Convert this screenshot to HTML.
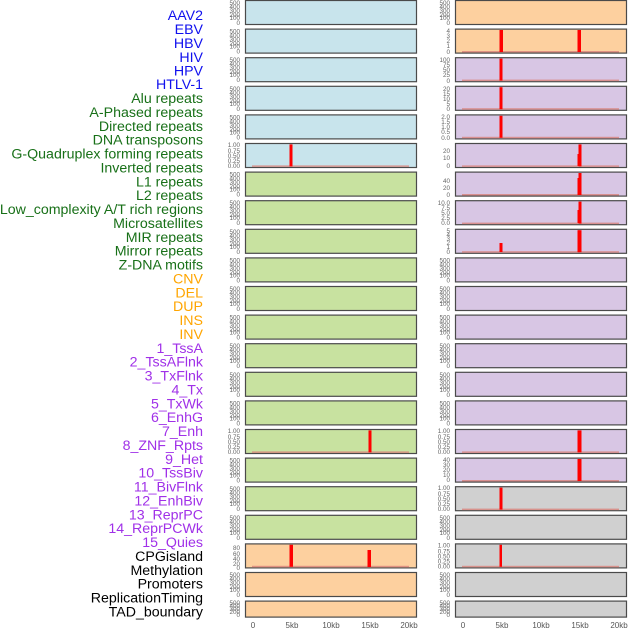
<!DOCTYPE html>
<html><head><meta charset="utf-8"><style>
body{margin:0;background:#fff}
svg{display:block}
.l{font-family:"Liberation Sans",sans-serif;font-size:14.2px;text-anchor:end}
.t{font-family:"Liberation Sans",sans-serif;font-size:6.3px;fill:#666;text-anchor:end}
.x{font-family:"Liberation Sans",sans-serif;font-size:8px;fill:#555;text-anchor:middle}
.p{stroke:#4a4a4a;stroke-width:1.2}
.b{fill:#c8e4ec}.o{fill:#fdd09f}.g{fill:#c8e2a0}.u{fill:#d8c6e4}.y{fill:#d0d0d0}
.r{fill:#ff0000}
.bl{fill:#d9827a;opacity:.8}
</style></head><body>
<svg width="630" height="630" xmlns="http://www.w3.org/2000/svg">
<g class="l">
<text x="203" y="20" fill="#1010ee">AAV2</text>
<text x="203" y="34" fill="#1010ee">EBV</text>
<text x="203" y="48" fill="#1010ee">HBV</text>
<text x="203" y="62" fill="#1010ee">HIV</text>
<text x="203" y="75.5" fill="#1010ee">HPV</text>
<text x="203" y="89" fill="#1010ee">HTLV-1</text>
<text x="203" y="103" fill="#187018">Alu repeats</text>
<text x="203" y="117" fill="#187018">A-Phased repeats</text>
<text x="203" y="131" fill="#187018">Directed repeats</text>
<text x="203" y="144.5" fill="#187018">DNA transposons</text>
<text x="203" y="158.5" fill="#187018">G-Quadruplex forming repeats</text>
<text x="203" y="172.5" fill="#187018">Inverted repeats</text>
<text x="203" y="186.5" fill="#187018">L1 repeats</text>
<text x="203" y="200" fill="#187018">L2 repeats</text>
<text x="203" y="214" fill="#187018">Low_complexity A/T rich regions</text>
<text x="203" y="228" fill="#187018">Microsatellites</text>
<text x="203" y="242" fill="#187018">MIR repeats</text>
<text x="203" y="255.5" fill="#187018">Mirror repeats</text>
<text x="203" y="269.5" fill="#187018">Z-DNA motifs</text>
<text x="203" y="283.5" fill="#ffa500">CNV</text>
<text x="203" y="297.5" fill="#ffa500">DEL</text>
<text x="203" y="311" fill="#ffa500">DUP</text>
<text x="203" y="325" fill="#ffa500">INS</text>
<text x="203" y="339" fill="#ffa500">INV</text>
<text x="203" y="353" fill="#a030e8">1_TssA</text>
<text x="203" y="366.5" fill="#a030e8">2_TssAFlnk</text>
<text x="203" y="380.5" fill="#a030e8">3_TxFlnk</text>
<text x="203" y="394.5" fill="#a030e8">4_Tx</text>
<text x="203" y="408.5" fill="#a030e8">5_TxWk</text>
<text x="203" y="422" fill="#a030e8">6_EnhG</text>
<text x="203" y="436" fill="#a030e8">7_Enh</text>
<text x="203" y="450" fill="#a030e8">8_ZNF_Rpts</text>
<text x="203" y="464" fill="#a030e8">9_Het</text>
<text x="203" y="477.5" fill="#a030e8">10_TssBiv</text>
<text x="203" y="491.5" fill="#a030e8">11_BivFlnk</text>
<text x="203" y="505.5" fill="#a030e8">12_EnhBiv</text>
<text x="203" y="519.5" fill="#a030e8">13_ReprPC</text>
<text x="203" y="533" fill="#a030e8">14_ReprPCWk</text>
<text x="203" y="547" fill="#a030e8">15_Quies</text>
<text x="203" y="561" fill="#000">CPGisland</text>
<text x="203" y="575" fill="#000">Methylation</text>
<text x="203" y="588.5" fill="#000">Promoters</text>
<text x="203" y="602.5" fill="#000">ReplicationTiming</text>
<text x="203" y="616.5" fill="#000">TAD_boundary</text>
</g>

<g class="p">
<rect class="b" x="245.5" y="0.5" width="171" height="24"/><rect class="o" x="455.5" y="0.5" width="171" height="24"/>
<rect class="b" x="245.5" y="29.1" width="171" height="24"/><rect class="o" x="455.5" y="29.1" width="171" height="24"/>
<rect class="b" x="245.5" y="57.7" width="171" height="24"/><rect class="u" x="455.5" y="57.7" width="171" height="24"/>
<rect class="b" x="245.5" y="86.3" width="171" height="24"/><rect class="u" x="455.5" y="86.3" width="171" height="24"/>
<rect class="b" x="245.5" y="114.9" width="171" height="24"/><rect class="u" x="455.5" y="114.9" width="171" height="24"/>
<rect class="b" x="245.5" y="143.5" width="171" height="24"/><rect class="u" x="455.5" y="143.5" width="171" height="24"/>
<rect class="g" x="245.5" y="172.1" width="171" height="24"/><rect class="u" x="455.5" y="172.1" width="171" height="24"/>
<rect class="g" x="245.5" y="200.7" width="171" height="24"/><rect class="u" x="455.5" y="200.7" width="171" height="24"/>
<rect class="g" x="245.5" y="229.3" width="171" height="24"/><rect class="u" x="455.5" y="229.3" width="171" height="24"/>
<rect class="g" x="245.5" y="257.9" width="171" height="24"/><rect class="u" x="455.5" y="257.9" width="171" height="24"/>
<rect class="g" x="245.5" y="286.5" width="171" height="24"/><rect class="u" x="455.5" y="286.5" width="171" height="24"/>
<rect class="g" x="245.5" y="315.1" width="171" height="24"/><rect class="u" x="455.5" y="315.1" width="171" height="24"/>
<rect class="g" x="245.5" y="343.7" width="171" height="24"/><rect class="u" x="455.5" y="343.7" width="171" height="24"/>
<rect class="g" x="245.5" y="372.3" width="171" height="24"/><rect class="u" x="455.5" y="372.3" width="171" height="24"/>
<rect class="g" x="245.5" y="400.9" width="171" height="24"/><rect class="u" x="455.5" y="400.9" width="171" height="24"/>
<rect class="g" x="245.5" y="429.5" width="171" height="24"/><rect class="u" x="455.5" y="429.5" width="171" height="24"/>
<rect class="g" x="245.5" y="458.1" width="171" height="24"/><rect class="u" x="455.5" y="458.1" width="171" height="24"/>
<rect class="g" x="245.5" y="486.7" width="171" height="24"/><rect class="y" x="455.5" y="486.7" width="171" height="24"/>
<rect class="g" x="245.5" y="515.3" width="171" height="24"/><rect class="y" x="455.5" y="515.3" width="171" height="24"/>
<rect class="o" x="245.5" y="543.9" width="171" height="24"/><rect class="y" x="455.5" y="543.9" width="171" height="24"/>
<rect class="o" x="245.5" y="572.5" width="171" height="24"/><rect class="y" x="455.5" y="572.5" width="171" height="24"/>
<rect class="o" x="245.5" y="601.1" width="171" height="16"/><rect class="y" x="455.5" y="601.1" width="171" height="16"/>
</g>

<g>
<rect class="bl" x="462" y="51" width="157" height="1.5"/><rect class="r" x="499.5" y="30" width="3.5" height="22"/><rect class="r" x="577.5" y="30" width="3.5" height="22"/>
<rect class="bl" x="462" y="79.6" width="157" height="1.5"/><rect class="r" x="499.5" y="58.6" width="3" height="22"/>
<rect class="bl" x="462" y="108.2" width="157" height="1.5"/><rect class="r" x="499.5" y="87.2" width="3" height="22"/>
<rect class="bl" x="462" y="136.8" width="157" height="1.5"/><rect class="r" x="499.5" y="115.8" width="3" height="22"/>
<rect class="bl" x="252" y="165.4" width="157" height="1.5"/><rect class="r" x="289.5" y="144.4" width="3" height="22"/>
<rect class="bl" x="462" y="165.4" width="157" height="1.5"/><rect class="r" x="578.5" y="144.4" width="3" height="22"/><rect class="r" x="577.5" y="154" width="2" height="12"/>
<rect class="bl" x="462" y="194" width="157" height="1.5"/><rect class="r" x="578.5" y="173" width="3" height="22"/><rect class="r" x="577.5" y="178" width="2" height="17"/>
<rect class="bl" x="462" y="222.6" width="157" height="1.5"/><rect class="r" x="578.5" y="201.6" width="3" height="22"/><rect class="r" x="577.5" y="210" width="2" height="13"/>
<rect class="bl" x="462" y="251.2" width="157" height="1.5"/><rect class="r" x="578.5" y="230.2" width="3" height="22"/><rect class="r" x="577.5" y="230.2" width="2" height="22"/><rect class="r" x="499.5" y="243" width="3" height="9"/>
<rect class="bl" x="252" y="451.4" width="157" height="1.5"/><rect class="r" x="368.5" y="430.4" width="3" height="22"/>
<rect class="bl" x="462" y="451.4" width="157" height="1.5"/><rect class="r" x="577.5" y="430.4" width="4" height="22"/>
<rect class="bl" x="462" y="480" width="157" height="1.5"/><rect class="r" x="577.5" y="459" width="4" height="22"/>
<rect class="bl" x="462" y="508.6" width="157" height="1.5"/><rect class="r" x="499.5" y="487.6" width="3" height="22"/>
<rect class="bl" x="252" y="565.8" width="157" height="1.5"/><rect class="r" x="289.5" y="544.8" width="3.5" height="22"/><rect class="r" x="367.5" y="550" width="3.5" height="17"/>
<rect class="bl" x="462" y="565.8" width="157" height="1.5"/><rect class="r" x="499.5" y="544.8" width="2.5" height="22"/>
</g>

<g class="t">
<g id="s0"><text x="240" y="5">500</text><text x="240" y="9">400</text><text x="240" y="13">300</text><text x="240" y="17">200</text><text x="240" y="20">100</text><text x="240" y="25">0</text></g>
<use href="#s0" y="28.6"/><use href="#s0" y="57.2"/><use href="#s0" y="85.8"/><use href="#s0" y="114.4"/>
<use href="#s0" y="171.6"/><use href="#s0" y="200.2"/><use href="#s0" y="228.8"/><use href="#s0" y="257.4"/><use href="#s0" y="286"/><use href="#s0" y="314.6"/><use href="#s0" y="343.2"/><use href="#s0" y="371.8"/><use href="#s0" y="400.4"/>
<use href="#s0" y="457.6"/><use href="#s0" y="486.2"/><use href="#s0" y="514.8"/><use href="#s0" y="572"/>
<use href="#s0" x="210"/><use href="#s0" x="210" y="257.4"/><use href="#s0" x="210" y="286"/><use href="#s0" x="210" y="314.6"/><use href="#s0" x="210" y="343.2"/><use href="#s0" x="210" y="371.8"/><use href="#s0" x="210" y="400.4"/><use href="#s0" x="210" y="514.8"/><use href="#s0" x="210" y="572"/>
<text x="240" y="605">500</text><text x="240" y="608">400</text><text x="240" y="611">300</text><text x="240" y="614">200</text><text x="240" y="617">0</text>
<text x="450" y="605">500</text><text x="450" y="608">400</text><text x="450" y="611">300</text><text x="450" y="614">200</text><text x="450" y="617">0</text>
<text x="450" y="33">4</text><text x="450" y="38">3</text><text x="450" y="43">2</text><text x="450" y="48">1</text><text x="450" y="54">0</text>
<text x="450" y="62">100</text><text x="450" y="67">75</text><text x="450" y="72">50</text><text x="450" y="77">25</text><text x="450" y="83">0</text>
<text x="450" y="91">20</text><text x="450" y="96">15</text><text x="450" y="101">10</text><text x="450" y="106">5</text><text x="450" y="111">0</text>
<text x="450" y="119">2.0</text><text x="450" y="124">1.5</text><text x="450" y="129">1.0</text><text x="450" y="134">0.5</text><text x="450" y="140">0.0</text>
<g id="f"><text x="240" y="147">1.00</text><text x="240" y="153">0.75</text><text x="240" y="158">0.50</text><text x="240" y="163">0.25</text><text x="240" y="168">0.00</text></g>
<use href="#f" y="286"/><use href="#f" x="210" y="286"/><use href="#f" x="210" y="343.2"/><use href="#f" x="210" y="400.4"/>
<text x="450" y="153">20</text><text x="450" y="160">10</text><text x="450" y="168">0</text>
<text x="450" y="183">40</text><text x="450" y="190">20</text><text x="450" y="197">0</text>
<text x="450" y="205">10.0</text><text x="450" y="210">7.5</text><text x="450" y="215">5.0</text><text x="450" y="220">2.5</text><text x="450" y="225">0.0</text>
<text x="450" y="233">5</text><text x="450" y="237">4</text><text x="450" y="241">3</text><text x="450" y="245">2</text><text x="450" y="249">1</text><text x="450" y="254">0</text>
<text x="450" y="462">40</text><text x="450" y="467">30</text><text x="450" y="472">20</text><text x="450" y="477">10</text><text x="450" y="482">0</text>
<text x="240" y="550">80</text><text x="240" y="556">60</text><text x="240" y="561">40</text><text x="240" y="566">20</text><text x="240" y="570">0</text>
</g>

<g class="x">
<text x="253" y="628">0</text><text x="292" y="628">5kb</text><text x="331" y="628">10kb</text><text x="370" y="628">15kb</text><text x="409" y="628">20kb</text>
<text x="463" y="628">0</text><text x="502" y="628">5kb</text><text x="541" y="628">10kb</text><text x="580" y="628">15kb</text><text x="619" y="628">20kb</text>
</g>
</svg>
</body></html>
